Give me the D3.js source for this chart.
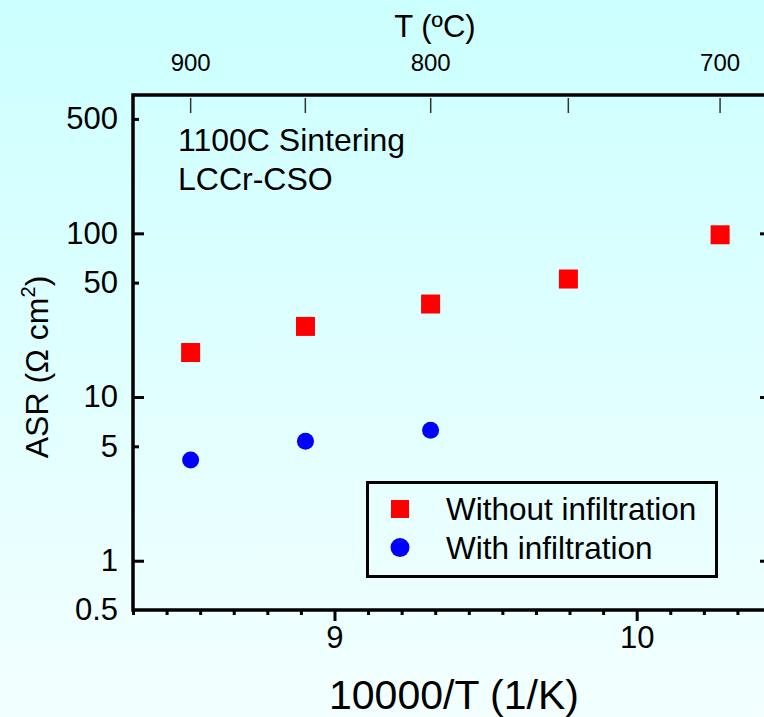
<!DOCTYPE html>
<html><head><meta charset="utf-8">
<script src="https://cdn.jsdelivr.net/npm/d3@7"></script>
<style>
html,body{margin:0;padding:0;overflow:hidden;}
svg text{font-family:"Liberation Sans",Arial,Helvetica,sans-serif;fill:#000;}
</style></head>
<body>
<svg id="chart" width="764" height="717"></svg>
<script>
// ---- data ----
const invT = [8.524, 8.904, 9.318, 9.774, 10.276];          // 10000/T (1/K)
const withoutInfiltration = [18.7, 27.0, 37.0, 52.6, 98.0]; // ASR (Ω cm²)
const withInfiltration = [4.12, 5.37, 6.27];                 // ASR (Ω cm²)
const yTicks = [0.5, 1, 5, 10, 50, 100, 500];
const yMajor = [1, 10, 100];
const xMajor = [9, 10];
const topTicks = [900, 850, 800, 750, 700];
const topLabels = [900, 800, 700];
const legendLabels = ["Without infiltration", "With infiltration"];
const noteLines = ["1100C Sintering", "LCCr-CSO"];

const svg = d3.select("#chart");
const defs = svg.append("defs");
const grad = defs.append("linearGradient").attr("id","bg").attr("x1",0).attr("y1",0).attr("x2",0).attr("y2",1);
grad.append("stop").attr("offset","0%").attr("stop-color","#ccffff");
grad.append("stop").attr("offset","100%").attr("stop-color","#f3ffff");
svg.append("rect").attr("width",764).attr("height",717).attr("fill","url(#bg)");

const L = 133, R = 771, T = 95, B = 610;
const x = d3.scaleLinear().domain([8.3333, 10.4444]).range([L, R]);
const y = d3.scaleLog().domain([0.5, 700]).range([B, T]);

// bottom axis: ticks every 1/9, outward
const xMinor = d3.range(0, 20).map(i => 8.3333 + i / 9).filter(v => v <= 10.45);
const gB = svg.append("g").attr("transform", `translate(0,${B})`)
  .call(d3.axisBottom(x).tickValues(xMinor).tickSizeOuter(0).tickSize(5)
    .tickFormat(d => { const m = xMajor.find(t => Math.abs(t - d) < 1e-3); return m ? m : ""; }));
gB.select(".domain").remove();
gB.selectAll(".tick line").attr("stroke","#000").attr("stroke-width",3)
  .attr("y2", d => xMajor.some(t => Math.abs(t - d) < 1e-3) ? 11 : 5);
gB.selectAll(".tick text").attr("y", 16).attr("dy","0.71em").style("font-size","31px").attr("fill","#000");

// left axis: inward ticks
const gL = svg.append("g").attr("transform", `translate(${L},0)`)
  .call(d3.axisLeft(y).tickValues(yTicks).tickSizeOuter(0).tickSize(0).tickFormat(d3.format("")));
gL.select(".domain").remove();
gL.selectAll(".tick line").attr("stroke","#000").attr("stroke-width",3)
  .attr("x2", d => yMajor.includes(d) ? 11 : (d === 0.5 ? 0 : 6));
gL.selectAll(".tick text").attr("x", -15).style("font-size","31px").attr("fill","#000");

// right axis ticks (inward)
const gR = svg.append("g").attr("transform", `translate(${R},0)`)
  .call(d3.axisRight(y).tickValues(yTicks).tickSizeOuter(0).tickSize(0).tickFormat(""));
gR.select(".domain").remove();
gR.selectAll(".tick line").attr("stroke","#000").attr("stroke-width",3)
  .attr("x2", d => yMajor.includes(d) ? -11 : (d === 0.5 ? 0 : -6));

// top axis (temperature)
const tx = t => x(10000 / (t + 273.15));
const gT = svg.append("g");
gT.selectAll("line.tt").data(topTicks).join("line")
  .attr("x1", tx).attr("x2", tx).attr("y1", T + 3).attr("y2", T + 18)
  .attr("stroke","#333").attr("stroke-width",1.5);
gT.selectAll("text.tl").data(topLabels).join("text")
  .attr("x", tx).attr("y", 71).attr("text-anchor","middle").style("font-size","24px").text(d => d);
svg.append("text").attr("x", 435).attr("y", 37).attr("text-anchor","middle").style("font-size","31px").text("T (ºC)");

// frame
svg.append("path").attr("d", `M${R},${T}H${L}V${B}H${R}`)
  .attr("fill","none").attr("stroke","#000").attr("stroke-width",3.5).attr("stroke-linecap","square");
svg.append("line").attr("x1",R).attr("x2",R).attr("y1",T).attr("y2",B).attr("stroke","#000").attr("stroke-width",3.5);

// data
const sq = 19;
svg.selectAll("rect.red").data(withoutInfiltration).join("rect")
  .attr("x", (d,i) => x(invT[i]) - sq/2).attr("y", d => y(d) - sq/2)
  .attr("width", sq).attr("height", sq).attr("fill","#ff0000");
svg.selectAll("circle.blue").data(withInfiltration).join("circle")
  .attr("cx", (d,i) => x(invT[i])).attr("cy", d => y(d)).attr("r", 8.5).attr("fill","#0000ff");

// annotation
svg.selectAll("text.note").data(noteLines).join("text")
  .attr("x", 178).attr("y", (d,i) => 151 + i * 39).style("font-size","32px").text(d => d);

// legend
svg.append("rect").attr("x",367.5).attr("y",482.5).attr("width",349).attr("height",94)
  .attr("fill","none").attr("stroke","#000").attr("stroke-width",3);
svg.append("rect").attr("x",400-9).attr("y",509-9).attr("width",18).attr("height",18).attr("fill","#ff0000");
svg.append("circle").attr("cx",400).attr("cy",547.5).attr("r",9.5).attr("fill","#0000ff");
svg.selectAll("text.leg").data(legendLabels).join("text")
  .attr("x", 446).attr("y", (d,i) => 520 + i * 39).style("font-size","31.5px").text(d => d);

// axis titles
svg.append("text").attr("x", 454).attr("y", 709).attr("text-anchor","middle").style("font-size","41px").text("10000/T (1/K)");
const yt = svg.append("text").attr("transform","translate(48,367) rotate(-90)").attr("text-anchor","middle").style("font-size","32px");
yt.append("tspan").text("ASR (Ω cm");
yt.append("tspan").attr("dy",-13).style("font-size","20px").text("2");
yt.append("tspan").attr("dy",13).text(")");
</script>
</body></html>
